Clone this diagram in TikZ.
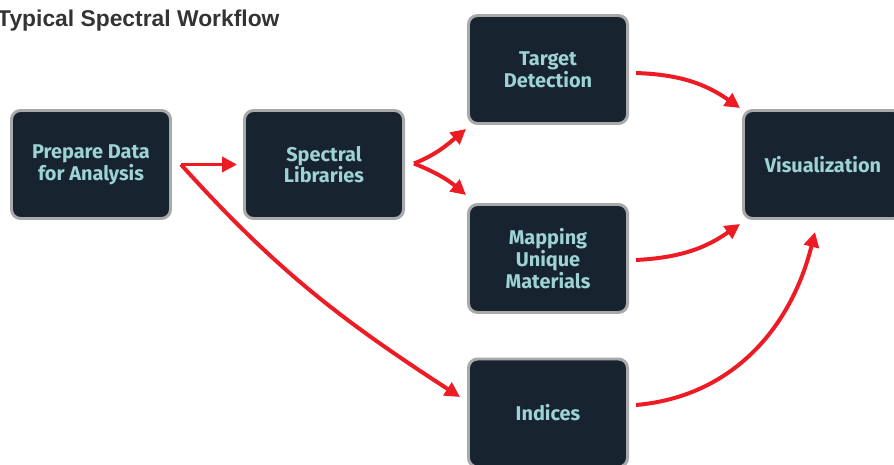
\documentclass[tikz,border=0pt]{standalone}
\usepackage{fontspec}
\usetikzlibrary{arrows.meta}
\newfontfamily\boxfont{Fira Sans}
\newfontfamily\titlefont{Liberation Sans}
\definecolor{boxfill}{HTML}{17232F}
\definecolor{boxline}{HTML}{A9A9A9}
\definecolor{boxtext}{HTML}{9DD3D5}
\definecolor{flowred}{HTML}{ED1C24}
\definecolor{titlegray}{HTML}{333333}
\tikzset{
  stepbox/.style={draw=boxline, line width=2.55pt, fill=boxfill, rounded corners=0.27cm,
    minimum width=4.77cm, minimum height=3.24cm, align=center, text=boxtext,
    font=\boxfont\bfseries\fontsize{17}{17}\selectfont},
  flow/.style={draw=flowred, line width=3.4pt, -{Triangle[length=0.45cm,width=0.45cm]}}
}
\begin{document}
\begin{tikzpicture}[x=0.03cm,y=0.03cm]
  \useasboundingbox (0,0) rectangle (894,464);
  \node[anchor=base west, inner sep=0, text=titlegray, font=\titlefont\bfseries\fontsize{19.5}{21}\selectfont] (title) at (-3,437) {Typical Spectral Workflow};
  \node[stepbox] (prep) at (91,299.5) {Prepare Data\\for Analysis};
  \node[stepbox] (speclib) at (324,299.5) {Spectral\\Libraries};
  \node[stepbox] (target) at (548,394.5) {Target\\Detection};
  \node[stepbox] (mapping) at (548,205.5) {Mapping\\Unique\\Materials};
  \node[stepbox] (indices) at (548,51) {Indices};
  \node[stepbox] (visual) at (823,299.5) {Visualization};
  \draw[flow] ([shift={(9,0)}]prep.east) -- ([shift={(-6,0)}]speclib.west);
  \draw[flow] ([shift={(9,0)}]prep.east) to[out=-48,in=147] ([shift={(-7,16)}]indices.west);
  \draw[flow] ([shift={(9,1)}]speclib.east) to[out=22,in=-140] ([shift={(-1,-4)}]target.south west);
  \draw[flow] ([shift={(9,1)}]speclib.east) to[out=-22,in=140] ([shift={(-1,8)}]mapping.north west);
  \draw[flow] ([shift={(7,-3.5)}]target.east) to[out=-2,in=145] ([shift={(-2,1)}]visual.north west);
  \draw[flow] ([shift={(7,-1.5)}]mapping.east) to[out=3,in=-145] ([shift={(-2,-4)}]visual.south west);
  \draw[flow] ([shift={(7,8)}]indices.east) to[out=5,in=-104] ([shift={(-8,-12)}]visual.south);
\end{tikzpicture}
\end{document}
